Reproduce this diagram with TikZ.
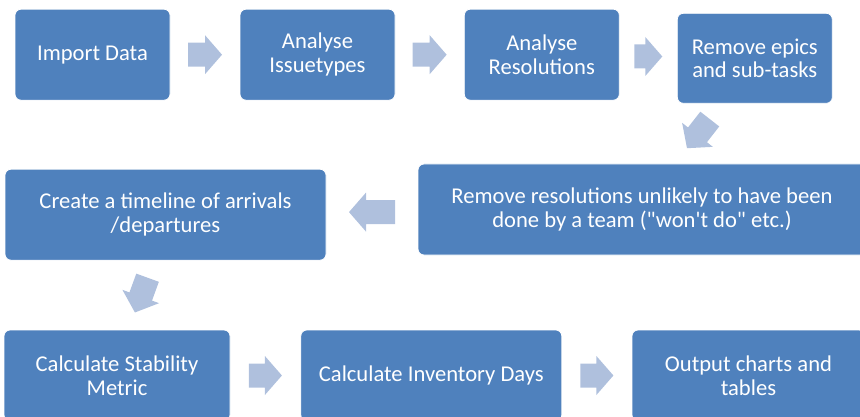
\documentclass[tikz,border=0pt]{standalone}
\usepackage{fontspec}
\setmainfont{Carlito}[Ligatures=TeXOff]
\usetikzlibrary{calc}
\definecolor{boxblue}{HTML}{4F81BD}
\definecolor{arrowblue}{HTML}{AFC0DD}
\tikzset{
  stepbox/.style={rectangle, rounded corners=6pt, fill=boxblue, draw=white, line width=0.8pt,
    text=white, align=center, minimum height=91pt, inner sep=4pt,
    font=\fontsize{22.6}{23.5}\selectfont},
  pics/barrow/.style={code={
    \fill[arrowblue] (-#1/2,-12) -- (#1/2-17,-12) -- (#1/2-17,-19.5) -- (#1/2,0)
      -- (#1/2-17,19.5) -- (#1/2-17,12) -- (-#1/2,12) -- cycle;}}
}
\begin{document}
\begin{tikzpicture}[x=1pt,y=-1pt]
\useasboundingbox (0,0) rectangle (860,417);
\clip (0,0) rectangle (860,417);

% first row
\node[stepbox, minimum width=155pt] (n1) at (92.5,54.7) {Import Data};
\node[stepbox, minimum width=155pt] (n2) at (317.5,54.7) {Analyse\\Issuetypes};
\node[stepbox, minimum width=155pt] (n3) at (541.8,54.7) {Analyse\\Resolutions};
\node[stepbox, minimum width=155pt, minimum height=90pt] (n4) at (754.8,58.3) {Remove epics\\and sub-tasks};

% second row
\node[stepbox, minimum width=448pt] (n5) at (642,209.5) {Remove resolutions unlikely to have been\\done by a team ("won't do" etc.)};
\node[stepbox, minimum width=321pt] (n6) at (165.5,214.7) {Create a timeline of arrivals\\/departures};

% third row
\node[stepbox, minimum width=226pt] (n7) at (117,375.5) {Calculate Stability\\Metric};
\node[stepbox, minimum width=261pt] (n8) at (431.3,375.5) {Calculate Inventory Days};
\node[stepbox, minimum width=233pt] (n9) at (748.5,375.5) {Output charts and\\tables};

% block arrows between the steps
\pic at ($(n1.east)!0.5!(n2.west)$) {barrow=34};
\pic at ($(n2.east)!0.5!(n3.west)$) {barrow=34};
\pic at ($(n3.east)!0.5!(n4.west)$) {barrow=28};
\pic[rotate=232] at ($(n4.south)!0.5!(n5.north)$) {barrow=37};
\pic[rotate=180] at ($(n5.west)!0.5!(n6.east)$) {barrow=46};
\pic[rotate=250] at ($(n6.south)!0.5!(n7.north)$) {barrow=37};
\pic at ($(n7.east)!0.5!(n8.west)$) {barrow=33};
\pic at ($(n8.east)!0.5!(n9.west)$) {barrow=33};
\end{tikzpicture}
\end{document}
